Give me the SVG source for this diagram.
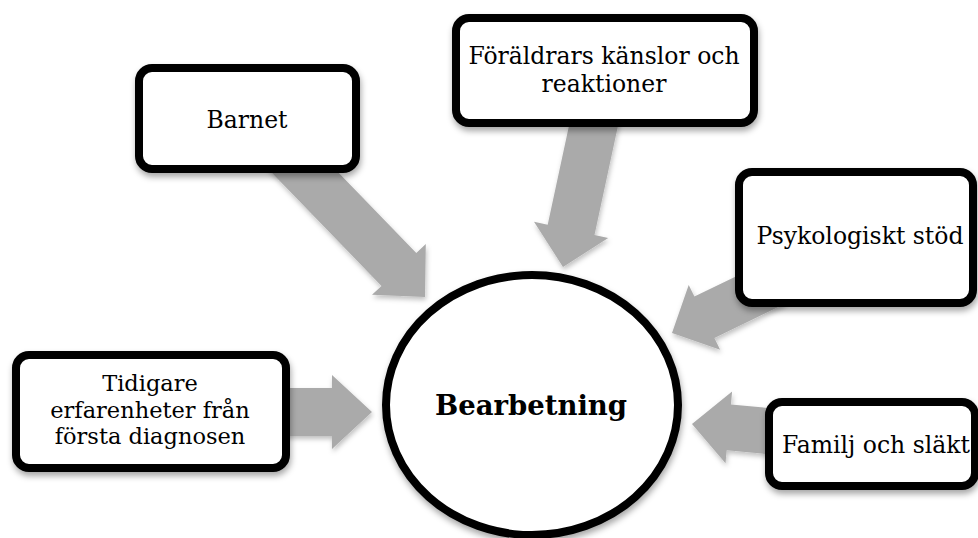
<svg xmlns="http://www.w3.org/2000/svg" width="978" height="538" viewBox="0 0 978 538">
  <defs>
    <filter id="sh" x="-20%" y="-20%" width="140%" height="150%">
      <feDropShadow dx="1" dy="4" stdDeviation="3" flood-color="#000" flood-opacity="0.35"/>
    </filter>
    <filter id="ash" x="-20%" y="-20%" width="140%" height="140%">
      <feDropShadow dx="1" dy="3" stdDeviation="2.5" flood-color="#000" flood-opacity="0.25"/>
    </filter>
  </defs>
  <style>
    .box { fill: #ffffff; stroke: #000000; stroke-width: 8; filter: url(#sh); }
    .arrow { fill: #aaaaaa; stroke: none; filter: url(#ash); }
    .lbl { font-family: "DejaVu Serif", "Liberation Serif", serif; font-size: 23.5px; fill: #000; text-anchor: middle; }
    .sm { font-size: 22.5px; }
    .main { font-family: "DejaVu Serif", "Liberation Serif", serif; font-size: 27.5px; font-weight: bold; fill: #000; text-anchor: middle; }
  </style>
  <rect width="978" height="538" fill="#ffffff"/>

  <g id="connectors">
    <polygon class="arrow" points="267.0,167.7 381.5,285.9 372.0,294.8 425,297 425.8,244.0 416.3,252.9 301.8,134.7"/>
    <polygon class="arrow" points="577.0,88.6 547.7,224.8 534.0,221.8 563,267 608.2,238.0 594.5,235.0 623.8,98.8"/>
    <polygon class="arrow" points="766.4,261.7 694.4,296.6 688.7,284.9 672,333 720.1,349.7 714.4,338.0 786.4,303.1"/>
    <polygon class="arrow" points="270,388 332,388 332,375 372,412 332,449 332,436 270,436"/>
    <polygon class="arrow" points="810.5,411.9 730.9,404.5 732.1,391.6 692,424 725.5,463.2 726.7,450.3 806.3,457.7"/>
  </g>

  <g id="node-center">
    <ellipse cx="532" cy="405" rx="146" ry="130" fill="#ffffff" stroke="#000" stroke-width="8" filter="url(#sh)"/>
    <text class="main" x="531" y="415">Bearbetning</text>
  </g>

  <g id="node-barnet">
    <rect class="box" x="139" y="68" width="217" height="101" rx="13"/>
    <text class="lbl" x="247" y="128">Barnet</text>
  </g>

  <g id="node-foraldrars">
    <rect class="box" x="456" y="18" width="298" height="105" rx="13"/>
    <text class="lbl" x="604" y="64">Föräldrars känslor och</text>
    <text class="lbl" x="604" y="92">reaktioner</text>
  </g>

  <g id="node-psykologiskt">
    <rect class="box" x="739" y="172" width="234" height="131" rx="13"/>
    <text class="lbl" x="860" y="244">Psykologiskt stöd</text>
  </g>

  <g id="node-tidigare">
    <rect class="box" x="16" y="355" width="270" height="113" rx="13"/>
    <text class="lbl sm" x="150" y="391">Tidigare</text>
    <text class="lbl sm" x="150" y="417.5">erfarenheter från</text>
    <text class="lbl sm" x="150" y="444">första diagnosen</text>
  </g>

  <g id="node-familj">
    <rect class="box" x="769" y="402" width="206" height="84" rx="13"/>
    <text class="lbl" x="876" y="453">Familj och släkt</text>
  </g>
</svg>
